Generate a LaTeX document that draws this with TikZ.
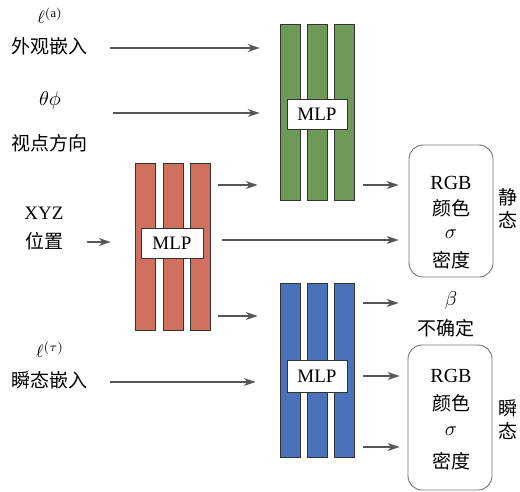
\documentclass[tikz,border=0pt]{standalone}
\usepackage{fontspec}
\setmainfont{Liberation Serif}
\newfontfamily\cjk{Noto Sans CJK SC}
\usetikzlibrary{arrows.meta,positioning}

\definecolor{mlpgreen}{HTML}{6E9A57}
\definecolor{mlpred}{HTML}{D0705E}
\definecolor{mlpblue}{HTML}{4A72B8}
\definecolor{arrgray}{HTML}{555555}

\tikzset{
  bar/.style={draw=black!80, line width=0.8pt, minimum width=20pt, inner sep=0pt},
  mlpbox/.style={draw=black!80, fill=white, line width=0.8pt, minimum width=60pt,
    minimum height=30pt, inner sep=0pt, font=\fontsize{19}{22}\selectfont},
  outbox/.style={draw=black!55, line width=0.9pt, rounded corners=14pt, minimum width=84pt, inner sep=0pt},
  lbl/.style={inner sep=0pt, font=\fontsize{19}{22}\selectfont\cjk},
  sym/.style={inner sep=0pt, font=\normalsize, scale=#1},
  arr/.style={-{Stealth[length=12pt,width=8pt]}, draw=arrgray, fill=arrgray, line width=1.3pt}
}

\begin{document}
\begin{tikzpicture}[x=1pt,y=-1pt]
  \useasboundingbox (0,0) rectangle (520,491);
  % Eingaben
  \node[sym=1.8] (la) at (50,16) {$\ell^{(\mathrm{a})}$};
  \node[lbl] (appear) at (50,46) {外观嵌入};
  \node[sym=2.0] (tp) at (50,100) {$\theta\phi$};
  \node[lbl] (view) at (50,143) {视点方向};
  \node[inner sep=0pt, font=\fontsize{19}{22}\selectfont] (xyz) at (44,213) {XYZ};
  \node[lbl] (pos) at (44,241) {位置};
  \node[sym=1.8] (lt) at (50,350) {$\ell^{(\tau)}$};
  \node[lbl] (trans) at (50,380) {瞬态嵌入};
  % MLP rot
  \foreach \i/\x in {1/145,2/173,3/200}
    \node[bar, fill=mlpred, minimum height=167pt] (r\i) at (\x,246.5) {};
  \node[mlpbox, minimum width=62pt] (rm) at (172,243) {MLP};
  % MLP gruen
  \foreach \i/\x in {1/290,2/317,3/344}
    \node[bar, fill=mlpgreen, minimum height=176pt] (g\i) at (\x,112) {};
  \node[mlpbox] (gm) at (317,114) {MLP};
  % MLP blau
  \foreach \i/\x in {1/290,2/317,3/344}
    \node[bar, fill=mlpblue, minimum height=174pt] (b\i) at (\x,370) {};
  \node[mlpbox, minimum height=32pt] (bm) at (317,376) {MLP};
  % Ausgaben statisch
  \node[outbox, minimum height=132pt] (sbox) at (451,211) {};
  \node[inner sep=0pt, font=\fontsize{20}{22}\selectfont] (rgbS) at (451,183) {RGB};
  \node[lbl] (colS) at (451,208) {颜色};
  \node[sym=2.0] (sigS) at (451,234) {$\sigma$};
  \node[lbl] (denS) at (451,260) {密度};
  \node[lbl, align=center, font=\fontsize{19}{23}\selectfont\cjk] (stat) at (508,209) {静\\态};
  % Ausgaben transient
  \node[sym=2.0] (beta) at (451,300) {$\beta$};
  \node[lbl] (unc) at (446,328) {不确定};
  \node[outbox, minimum height=145pt] (tbox) at (450,417.5) {};
  \node[inner sep=0pt, font=\fontsize{20}{22}\selectfont] (rgbT) at (451,376) {RGB};
  \node[lbl] (colT) at (451,403) {颜色};
  \node[sym=2.0] (sigT) at (451,431) {$\sigma$};
  \node[lbl] (denT) at (451,461) {密度};
  \node[lbl, align=center, font=\fontsize{19}{23}\selectfont\cjk] (tran) at (508,420) {瞬\\态};
  % Pfeile links
  \draw[arr, shorten >=20pt] ([xshift=22pt,yshift=-2pt]appear.east) -- ([yshift=-2pt]appear.east -| g1.west);
  \draw[arr, shorten >=20pt] ([xshift=113pt]0,113) -- (g1.west |- 0,113);
  \draw[arr, shorten >=24pt] ([xshift=24pt,yshift=-1pt]pos.east) -- ([yshift=-1pt]pos.east -| r1.west);
  \draw[arr, shorten >=24pt] ([xshift=22pt,yshift=-2pt]trans.east) -- ([yshift=-2pt]trans.east -| b1.west);
  % Pfeile Mitte
  \draw[arr, shorten <=8pt, shorten >=22pt] (r3.east |- 0,185) -- (g1.west |- 0,185);
  \draw[arr, shorten <=12pt, shorten >=10pt] (r3.east |- 0,240) -- (sbox.west |- 0,240);
  \draw[arr, shorten <=8pt, shorten >=22pt] (r3.east |- 0,316) -- (b1.west |- 0,316);
  % Pfeile rechts
  \draw[arr, shorten <=9pt, shorten >=10pt] (g3.east |- 0,185) -- (sbox.west |- 0,185);
  \draw[arr, shorten <=9pt, shorten >=10pt] (b3.east |- 0,303) -- (sbox.west |- 0,303);
  \draw[arr, shorten <=9pt, shorten >=8pt] (b3.east |- 0,376) -- (tbox.west |- 0,376);
  \draw[arr, shorten <=9pt, shorten >=8pt] (b3.east |- 0,447) -- (tbox.west |- 0,447);
\end{tikzpicture}
\end{document}
